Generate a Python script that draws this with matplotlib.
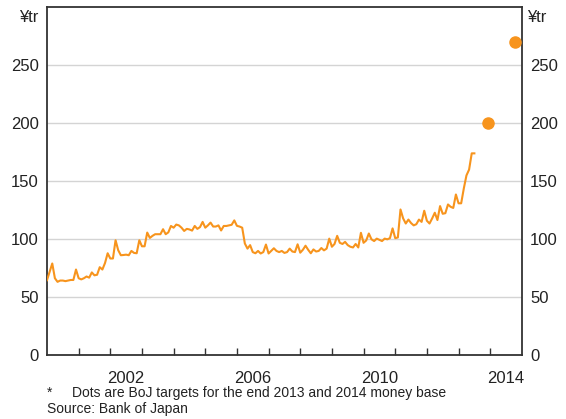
import numpy as np
import matplotlib
matplotlib.use("Agg")
import matplotlib.pyplot as plt
import matplotlib.transforms as mtransforms

plt.rcParams['font.family'] = ['Liberation Sans', 'DejaVu Sans']

# Japan monetary base, monthly from Jan 2000, ¥ trillion
base_2000 = [64.8, 72, 79.2, 66.5, 63.4, 64.5, 64.5, 64, 64.5, 65, 65, 74]
base_2001 = [66.5, 65.5, 66.5, 68, 67, 71.5, 69, 69.5, 76, 74, 79.6, 88]
base_2002 = [83.5, 83.5, 99.2, 90.6, 86.3, 86.5, 86.8, 86.3, 90, 88.3, 88, 99.2]
base_2003 = [94, 94, 105.8, 101.2, 103, 104.4, 104.4, 104.4, 108.7, 104.4, 106, 111.5]
base_2004 = [110, 112.7, 112, 110, 107.2, 109, 108.5, 107.5, 111.5, 109, 110.5, 115]
base_2005 = [110, 112, 114.4, 111, 111, 112, 107.6, 111.5, 111.5, 112, 112.5, 116.3]
base_2006 = [111.6, 111, 110, 96.4, 92, 95, 89, 88, 90, 87.8, 89, 95.5]
base_2007 = [87.8, 90, 92.3, 90, 89, 90, 88.3, 89, 92, 89.5, 89, 95.7]
base_2008 = [88.5, 91, 94.5, 91, 88, 91.3, 89.5, 90, 92.5, 90.5, 92, 100.6]
base_2009 = [93.6, 96, 103, 97, 96, 97.8, 95, 93.6, 93, 96, 93, 105.6]
base_2010 = [97, 99, 105, 100, 98.5, 100.6, 99.5, 98.5, 100.6, 100, 101, 109.4]
base_2011 = [101, 101.6, 125.7, 118, 113.6, 117, 114, 112, 113, 117, 115, 124.6]
base_2012 = [116, 113.6, 118, 122.9, 116.6, 128.6, 122, 122.5, 130, 128, 127, 138.6]
base_2013 = [131, 131, 143.8, 155, 160, 174, 174]

# BoJ targets (end 2013, end 2014)
target_x = [2013.92, 2014.79]
target_y = [200, 270]

year_labels = ['2002', '2006', '2010', '2014']

money_base = (base_2000 + base_2001 + base_2002 + base_2003 + base_2004 + base_2005
              + base_2006 + base_2007 + base_2008 + base_2009 + base_2010 + base_2011
              + base_2012 + base_2013)
months = 2000 + np.arange(len(money_base)) / 12.0

orange = '#f7941d'
txt = '#222222'

fig = plt.figure(figsize=(5.66, 4.19), dpi=100)
ax = fig.add_axes([0.083, 0.1516, 0.839, 0.8317])

ax.plot(months, money_base, color=orange, lw=1.5, zorder=3)
ax.plot(target_x, target_y, 'o', color=orange, ms=8, zorder=4, clip_on=False)

ax.set_xlim(2000, 2015)
ax.set_ylim(0, 300)

# grid
for v in [50, 100, 150, 200, 250]:
    ax.axhline(v, color='#d4d4d4', lw=1, zorder=1)

# x: ticks at year boundaries, labels mid-year
ax.set_xticks(np.arange(2001, 2015))
ax.set_xticklabels([])
ax.set_xticks([2002.5, 2006.5, 2010.5, 2014.5], minor=True)
ax.set_xticklabels(year_labels, minor=True)
ax.tick_params(axis='x', which='major', direction='in', length=5, width=1, color='#333333')
ax.tick_params(axis='x', which='minor', length=0, labelsize=12, pad=11, labelcolor=txt)

ax.set_yticks([0, 50, 100, 150, 200, 250])
ax.tick_params(axis='y', length=0, labelsize=12, labelleft=True, labelright=True,
               pad=6, labelcolor=txt)

for s in ax.spines.values():
    s.set_color('#333333')
    s.set_linewidth(1.3)

# unit labels
trl = mtransforms.blended_transform_factory(ax.transAxes, ax.transData)
ax.text(-0.017, 291, '¥tr', transform=trl, ha='right', va='center', fontsize=12, color=txt)
ax.text(1.012, 291, '¥tr', transform=trl, ha='left', va='center', fontsize=12, color=txt)

fig.text(0.083, 0.062, '*', fontsize=10, va='center', color=txt)
fig.text(0.127, 0.062, 'Dots are BoJ targets for the end 2013 and 2014 money base',
         fontsize=10, va='center', color=txt)
fig.text(0.083, 0.024, 'Source: Bank of Japan', fontsize=10, va='center', color=txt)

fig.savefig('out.png', dpi=100)
